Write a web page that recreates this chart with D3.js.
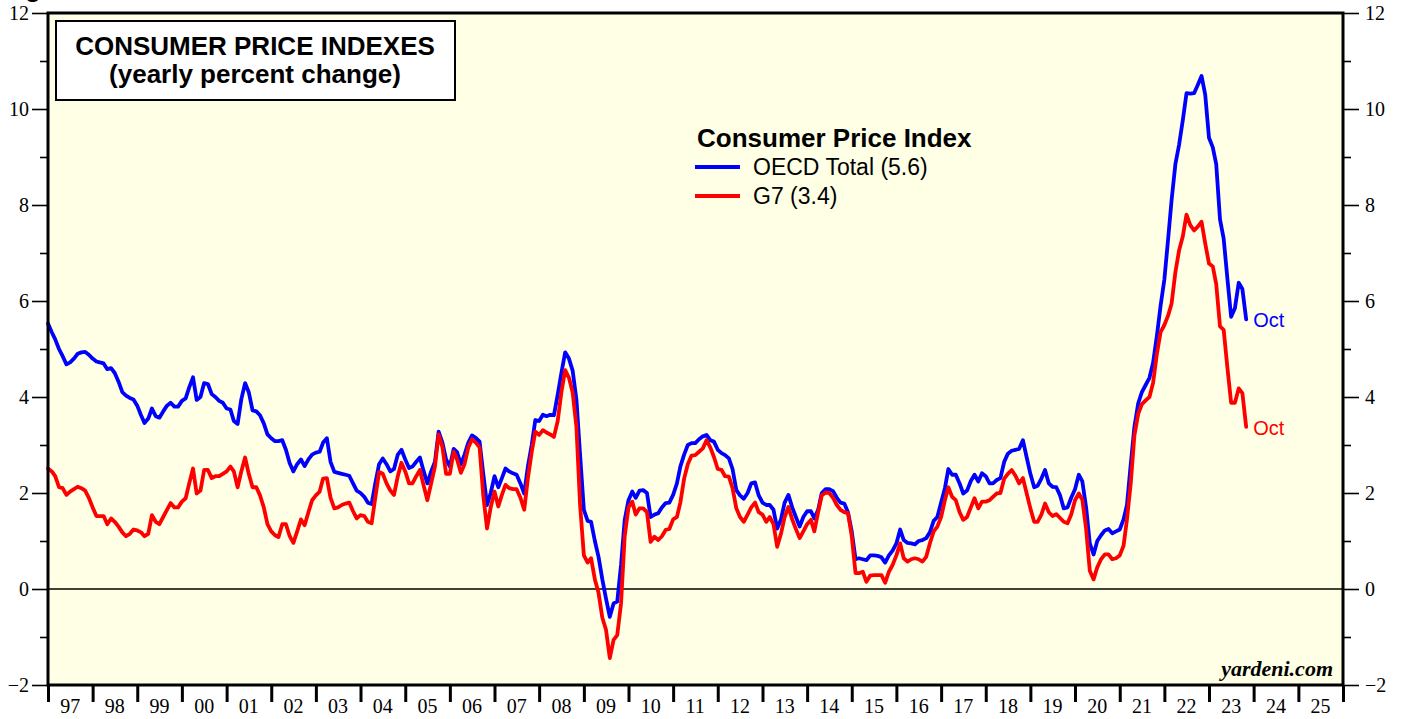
<!DOCTYPE html>
<html>
<head>
<meta charset="utf-8">
<script src="https://cdn.jsdelivr.net/npm/d3@7"></script>
<style>
body { margin: 0; background: #fff; }
svg { display: block; }
.axis text { font-family: "Liberation Serif", "Times New Roman", serif; font-size: 20px; fill: #000; }
.axis line { stroke: #000; }
</style>
</head>
<body>
<div id="chart"></div>
<script>
var width = 1403;
var height = 719;

// yearly % change, monthly, Dec 1996 .. Oct 2023
var oecd = [5.53,
  5.35, 5.2, 5.0, 4.85, 4.68, 4.72, 4.8, 4.9, 4.93, 4.94, 4.88, 4.8,
  4.74, 4.72, 4.7, 4.58, 4.6, 4.5, 4.32, 4.1, 4.03, 3.98, 3.95, 3.82,
  3.62, 3.46, 3.55, 3.76, 3.6, 3.57, 3.7, 3.82, 3.88, 3.8, 3.8, 3.92,
  3.97, 4.2, 4.41, 3.94, 4.0, 4.29, 4.27, 4.06, 4.0, 3.92, 3.88, 3.76,
  3.74, 3.5, 3.44, 3.95, 4.29, 4.1, 3.72, 3.7, 3.62, 3.45, 3.22, 3.14,
  3.08, 3.08, 3.1, 2.9, 2.62, 2.45, 2.6, 2.7, 2.56, 2.7, 2.8, 2.84,
  2.86, 3.05, 3.14, 2.65, 2.44, 2.42, 2.4, 2.38, 2.36, 2.2, 2.05, 2.0,
  1.92, 1.8, 1.77, 2.2, 2.6, 2.72, 2.6, 2.45, 2.5, 2.8, 2.9, 2.7,
  2.52, 2.55, 2.65, 2.74, 2.45, 2.2, 2.45, 2.65, 3.28, 3.05, 2.7, 2.55,
  2.92, 2.85, 2.6, 2.8, 3.05, 3.2, 3.15, 3.07, 2.4, 1.75, 2.0, 2.35,
  2.12, 2.3, 2.51, 2.45, 2.41, 2.38, 2.2, 1.99, 2.55, 3.0, 3.52, 3.5,
  3.63, 3.6, 3.63, 3.62, 4.05, 4.5, 4.93, 4.8, 4.55, 3.95, 2.8, 1.65,
  1.42, 1.4, 1.0, 0.67, 0.2, -0.2, -0.58, -0.3, -0.26, 0.5, 1.44, 1.85,
  2.03, 1.9, 2.05, 2.06, 2.0, 1.5, 1.55, 1.58, 1.7, 1.79, 1.8, 1.96,
  2.2, 2.55, 2.8, 3.0, 3.04, 3.04, 3.12, 3.18, 3.21, 3.1, 3.07, 2.9,
  2.83, 2.79, 2.72, 2.5, 2.06, 1.95, 1.88, 2.0, 2.2, 2.22, 1.95, 1.8,
  1.75, 1.75, 1.65, 1.26, 1.45, 1.8, 1.96, 1.7, 1.5, 1.3, 1.5, 1.62,
  1.62, 1.47, 1.65, 2.0, 2.08, 2.08, 2.04, 1.9, 1.8, 1.78, 1.6, 1.2,
  0.62, 0.64, 0.62, 0.6, 0.7, 0.7, 0.69, 0.66, 0.55, 0.7, 0.8, 0.95,
  1.24, 1.02, 0.96, 0.95, 0.93, 1.0, 1.02, 1.06, 1.18, 1.42, 1.5, 1.8,
  2.1, 2.5, 2.38, 2.38, 2.2, 1.99, 2.05, 2.25, 2.38, 2.24, 2.41, 2.35,
  2.2, 2.2, 2.27, 2.31, 2.65, 2.82, 2.88, 2.9, 2.92, 3.1, 2.75, 2.4,
  2.12, 2.15, 2.3, 2.48, 2.2, 2.13, 2.12, 1.95, 1.68, 1.7, 1.9, 2.08,
  2.38, 2.24, 1.7, 0.95, 0.72, 1.0, 1.12, 1.22, 1.25, 1.16, 1.2, 1.24,
  1.45, 1.75, 2.6, 3.38, 3.87, 4.1, 4.25, 4.4, 4.72, 5.28, 5.9, 6.45,
  7.3, 8.1, 8.85, 9.25, 9.77, 10.33, 10.32, 10.33, 10.5, 10.69, 10.3, 9.4,
  9.2, 8.85, 7.7, 7.3, 6.45, 5.67, 5.85, 6.38, 6.25, 5.62];

var g7 = [2.51,
  2.45, 2.35, 2.12, 2.1, 1.96, 2.03, 2.08, 2.13, 2.1, 2.05, 1.9, 1.7,
  1.52, 1.52, 1.52, 1.35, 1.47, 1.4, 1.3, 1.18, 1.1, 1.15, 1.24, 1.22,
  1.18, 1.1, 1.15, 1.54, 1.4, 1.35, 1.5, 1.65, 1.79, 1.7, 1.7, 1.82,
  1.89, 2.2, 2.51, 1.99, 2.05, 2.48, 2.48, 2.31, 2.35, 2.35, 2.4, 2.45,
  2.55, 2.45, 2.12, 2.45, 2.74, 2.4, 2.12, 2.12, 1.95, 1.7, 1.35, 1.2,
  1.12, 1.08, 1.35, 1.35, 1.1, 0.96, 1.2, 1.45, 1.33, 1.6, 1.85, 1.95,
  2.03, 2.3, 2.31, 1.9, 1.68, 1.7, 1.75, 1.78, 1.8, 1.62, 1.47, 1.54,
  1.52, 1.4, 1.37, 1.9, 2.44, 2.4, 2.2, 2.05, 1.96, 2.35, 2.63, 2.45,
  2.2, 2.2, 2.35, 2.48, 2.15, 1.85, 2.2, 2.55, 3.22, 2.96, 2.4, 2.4,
  2.86, 2.7, 2.42, 2.6, 2.95, 3.12, 3.05, 2.95, 1.95, 1.26, 1.7, 2.03,
  1.72, 1.95, 2.17, 2.1, 2.08, 2.08, 1.9, 1.65, 2.3, 2.85, 3.28, 3.21,
  3.31, 3.26, 3.22, 3.17, 3.5, 4.1, 4.56, 4.4, 4.1, 3.38, 1.75, 0.7,
  0.55, 0.64, 0.2, -0.08, -0.6, -0.85, -1.44, -1.06, -0.96, -0.3, 1.1, 1.7,
  1.82, 1.55, 1.68, 1.68, 1.6, 0.98, 1.09, 1.02, 1.1, 1.23, 1.25, 1.45,
  1.5, 1.8, 2.3, 2.6, 2.78, 2.79, 2.86, 2.93, 3.1, 2.95, 2.75, 2.5,
  2.48, 2.35, 2.34, 2.1, 1.68, 1.5, 1.4, 1.55, 1.7, 1.8, 1.6, 1.55,
  1.4, 1.5, 1.35, 0.88, 1.15, 1.5, 1.71, 1.45, 1.25, 1.06, 1.2, 1.35,
  1.44, 1.2, 1.6, 1.95, 2.01, 2.0, 1.9, 1.75, 1.65, 1.6, 1.58, 1.1,
  0.33, 0.33, 0.36, 0.15, 0.28, 0.29, 0.29, 0.29, 0.13, 0.36, 0.5, 0.7,
  0.95, 0.64, 0.57, 0.62, 0.64, 0.62, 0.57, 0.67, 0.95, 1.2, 1.3, 1.5,
  1.85, 2.12, 1.92, 1.85, 1.6, 1.44, 1.5, 1.7, 1.89, 1.68, 1.82, 1.82,
  1.85, 1.92, 1.99, 2.0, 2.3, 2.4, 2.48, 2.36, 2.2, 2.31, 2.0, 1.68,
  1.4, 1.4, 1.55, 1.78, 1.6, 1.52, 1.56, 1.48, 1.4, 1.37, 1.55, 1.85,
  1.99, 1.86, 1.25, 0.38, 0.2, 0.45, 0.62, 0.72, 0.72, 0.62, 0.64, 0.7,
  0.9, 1.45, 2.2, 3.2, 3.65, 3.85, 3.93, 4.0, 4.3, 4.9, 5.35, 5.5,
  5.7, 5.95, 6.6, 7.05, 7.35, 7.8, 7.58, 7.47, 7.55, 7.65, 7.2, 6.78,
  6.72, 6.35, 5.47, 5.4, 4.6, 3.88, 3.88, 4.18, 4.08, 3.38];

var yearLabels = ["97","98","99","00","01","02","03","04","05","06","07","08","09","10",
  "11","12","13","14","15","16","17","18","19","20","21","22","23","24","25"];
var yMajor = [-2, 0, 2, 4, 6, 8, 10, 12];
var yMinor = [-1, 1, 3, 5, 7, 9, 11];

var seriesNames = ["OECD Total (5.6)", "G7 (3.4)"];
var seriesColors = ["#0000ff", "#ff0000"];

var start = new Date(1997, 0, 1);
var end = new Date(2026, 0, 1);

var xScale = d3.scaleTime().domain([start, end]).range([48, 1343]);
var yScale = d3.scaleLinear().domain([-2, 12]).range([685, 13]);

// points sit at month end
function dateOf(i) { return d3.timeMonth.offset(start, i); }

var svg = d3.select("#chart")
    .append("svg")
    .attr("width", width)
    .attr("height", height);

// figure caption, cut off by the top of the page
svg.append("text")
    .attr("x", 2).attr("y", -3)
    .style("font-family", "'Liberation Sans', Arial, sans-serif")
    .style("font-weight", "bold")
    .style("font-size", "26px")
    .text("Figure");

// plot background
svg.append("rect")
    .attr("x", 48).attr("y", 13)
    .attr("width", 1343 - 48).attr("height", 685 - 13)
    .attr("fill", "#ffffe6");

svg.append("line")
    .attr("x1", 48).attr("x2", 1343)
    .attr("y1", yScale(0)).attr("y2", yScale(0))
    .attr("stroke", "#000").attr("stroke-width", 1.3);

var line = d3.line()
    .x(function(d, i) { return xScale(dateOf(i)); })
    .y(function(d) { return yScale(d); });

[oecd, g7].forEach(function(s, k) {
    svg.append("path")
        .datum(s)
        .attr("fill", "none")
        .attr("stroke", seriesColors[k])
        .attr("stroke-width", 3.8)
        .attr("stroke-linejoin", "round")
        .attr("stroke-linecap", "round")
        .attr("d", line);
});

// frame
svg.append("rect")
    .attr("x", 48).attr("y", 13)
    .attr("width", 1343 - 48).attr("height", 685 - 13)
    .attr("fill", "none")
    .attr("stroke", "#000")
    .attr("stroke-width", 3);

// y axes
var leftMajor = svg.append("g").attr("class", "axis")
    .attr("transform", "translate(48,0)")
    .call(d3.axisLeft(yScale).tickValues(yMajor).tickSize(16).tickPadding(3).tickFormat(d3.format("d")));
var leftMinor = svg.append("g").attr("class", "axis")
    .attr("transform", "translate(48,0)")
    .call(d3.axisLeft(yScale).tickValues(yMinor).tickSize(8).tickFormat(""));
var rightMajor = svg.append("g").attr("class", "axis")
    .attr("transform", "translate(1343,0)")
    .call(d3.axisRight(yScale).tickValues(yMajor).tickSize(16).tickPadding(6).tickFormat(d3.format("d")));
var rightMinor = svg.append("g").attr("class", "axis")
    .attr("transform", "translate(1343,0)")
    .call(d3.axisRight(yScale).tickValues(yMinor).tickSize(8).tickFormat(""));

[leftMajor, leftMinor, rightMajor, rightMinor].forEach(function(g) {
    g.select(".domain").remove();
    g.selectAll("line").attr("stroke-width", 1.6);
});

// x axis: ticks at year boundaries, labels mid-year
var yearStarts = yearLabels.map(function(d, i) { return new Date(1997 + i, 0, 1); }).concat([end]);
var xAxisG = svg.append("g").attr("class", "axis")
    .attr("transform", "translate(0,685)")
    .call(d3.axisBottom(xScale).tickValues(yearStarts).tickSize(17).tickFormat(""));
xAxisG.select(".domain").remove();
xAxisG.selectAll("line").attr("stroke-width", 3);

xAxisG.selectAll(".yearlabel")
    .data(yearLabels)
    .enter()
    .append("text")
    .attr("class", "yearlabel")
    .attr("x", function(d, i) { return xScale(new Date(1997 + i, 6, 1)); })
    .attr("y", 28)
    .attr("text-anchor", "middle")
    .text(function(d) { return d; });

// title box
svg.append("rect")
    .attr("x", 56).attr("y", 21)
    .attr("width", 399).attr("height", 79)
    .attr("fill", "#fff")
    .attr("stroke", "#000")
    .attr("stroke-width", 2);

var title = svg.append("text")
    .attr("text-anchor", "middle")
    .style("font-family", "'Liberation Sans', Arial, sans-serif")
    .style("font-weight", "bold")
    .style("font-size", "26px");
title.append("tspan").attr("x", 255).attr("y", 55).text("CONSUMER PRICE INDEXES");
title.append("tspan").attr("x", 255).attr("y", 83).text("(yearly percent change)");

// legend
var legend = svg.append("g")
    .style("font-family", "'Liberation Sans', Arial, sans-serif");
legend.append("text")
    .attr("x", 697).attr("y", 147)
    .style("font-weight", "bold")
    .style("font-size", "26px")
    .text("Consumer Price Index");
seriesNames.forEach(function(name, k) {
    var ly = 167 + k * 29;
    legend.append("line")
        .attr("x1", 695).attr("x2", 740)
        .attr("y1", ly).attr("y2", ly)
        .attr("stroke", seriesColors[k])
        .attr("stroke-width", 4);
    legend.append("text")
        .attr("x", 753).attr("y", ly + 8)
        .style("font-size", "23px")
        .attr("fill", "#000")
        .text(name);
});

// end labels
[oecd, g7].forEach(function(s, k) {
    var i = s.length - 1;
    svg.append("text")
        .attr("x", xScale(dateOf(i)) + 7)
        .attr("y", yScale(s[i]) + 8)
        .attr("fill", seriesColors[k])
        .style("font-family", "'Liberation Sans', Arial, sans-serif")
        .style("font-size", "20px")
        .text("Oct");
});

svg.append("text")
    .attr("x", 1333).attr("y", 676)
    .attr("text-anchor", "end")
    .style("font-family", "'Liberation Serif', 'Times New Roman', serif")
    .style("font-weight", "bold")
    .style("font-style", "italic")
    .style("font-size", "22px")
    .text("yardeni.com");
</script>
</body>
</html>
